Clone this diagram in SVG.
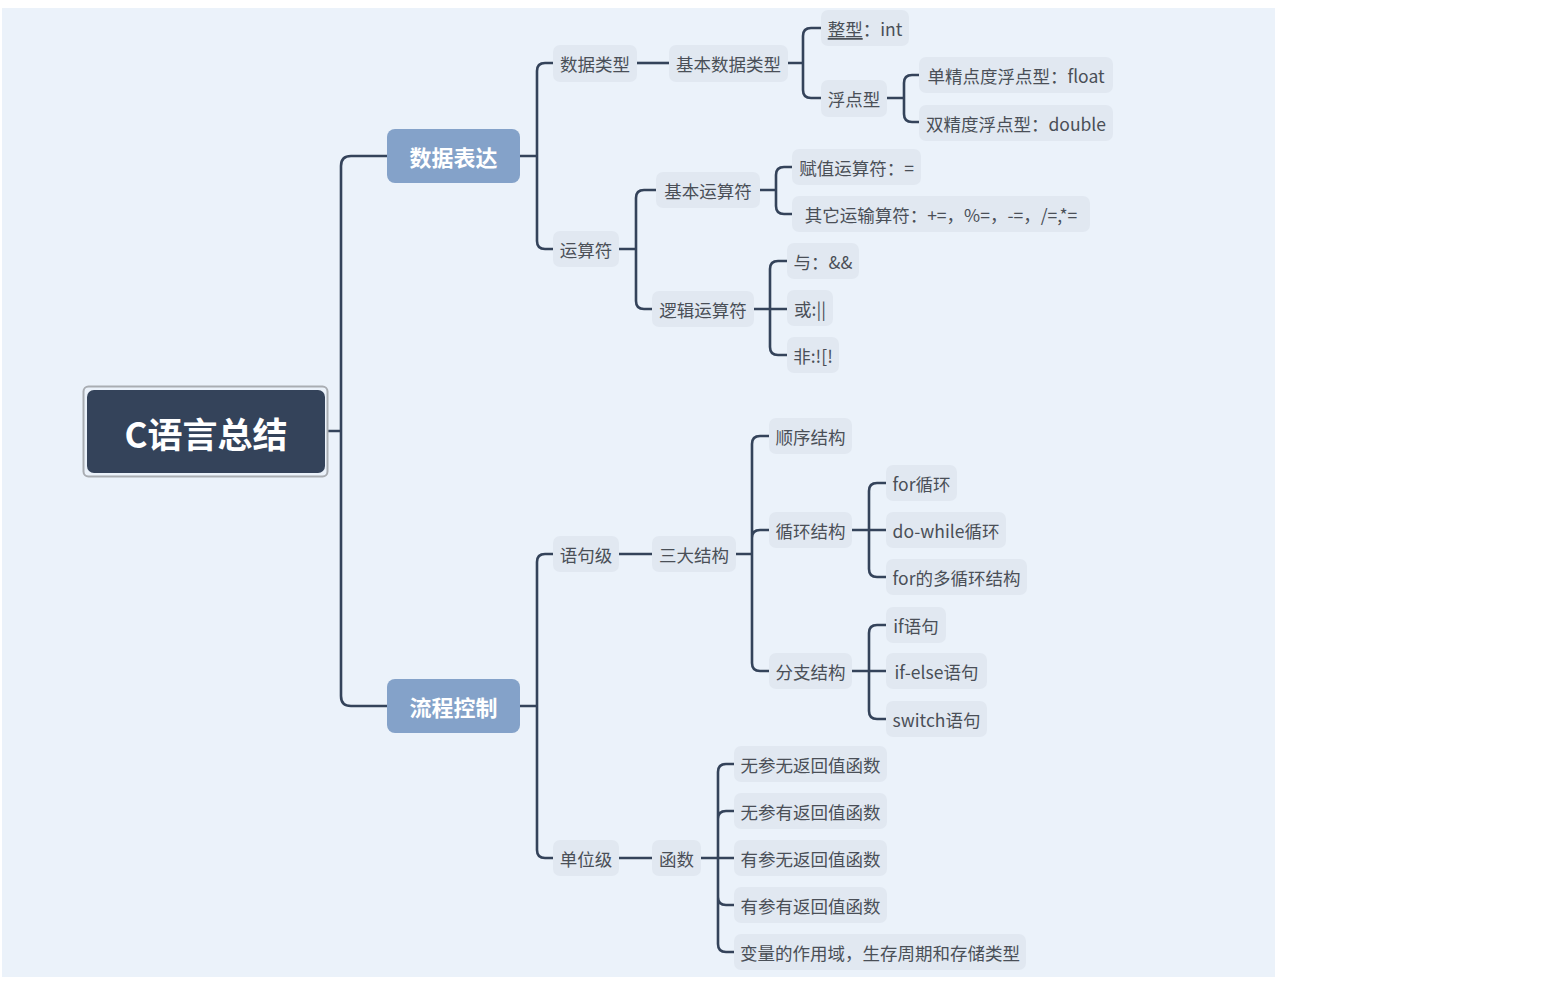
<svg xmlns="http://www.w3.org/2000/svg" width="1567" height="994" viewBox="0 0 1567 994">
<style>
.bg{fill:#EBF2FA}
.n rect{fill:#E1E8F1;rx:7px}
.n text{font-family:"Noto Sans CJK SC","Noto Sans",sans-serif;font-size:17.5px;fill:#4A4F57;text-anchor:middle;dominant-baseline:central}
.m rect{fill:#84A2C9;rx:8px}
.m text{font-family:"Noto Sans CJK SC","Noto Sans",sans-serif;font-size:22px;font-weight:bold;fill:#FFFFFF;text-anchor:middle;dominant-baseline:central}
.c path{fill:none;stroke:#34435A;stroke-width:2.6;stroke-linecap:butt}
</style>
<rect x="0" y="0" width="1567" height="994" fill="#FFFFFF"/>
<rect class="bg" x="2" y="8" width="1273" height="969"/>
<g class="c">
<path d="M328 431 H341 M341 431 V166 Q341 156 351 156 H387 M341 431 V696 Q341 706 351 706 H387" stroke-width="3"/>
<path d="M520 156 H537 M537 156 V71 Q537 63 545 63 H553 M537 156 V241 Q537 249 545 249 H553"/>
<path d="M520 706 H537 M537 706 V562 Q537 554 545 554 H553 M537 706 V850 Q537 858 545 858 H553"/>
<path d="M637 63 H669"/>
<path d="M788 63 H803 M803 63 V36 Q803 28 811 28 H821 M803 63 V90 Q803 98 811 98 H821"/>
<path d="M887 98 H904 M904 98 V83 Q904 75 912 75 H919 M904 98 V114 Q904 122 912 122 H919"/>
<path d="M619 249 H636 M636 249 V198 Q636 190 644 190 H656 M636 249 V301 Q636 309 644 309 H652"/>
<path d="M760 190 H776 M776 190 V175 Q776 167 784 167 H792 M776 190 V206 Q776 214 784 214 H792"/>
<path d="M754 309 H787 M770 309 V269 Q770 261 778 261 H787 M770 309 V347 Q770 355 778 355 H787"/>
<path d="M619 554 H652"/>
<path d="M736 554 H752 M752 554 V444 Q752 436 760 436 H769 M752 554 V538 Q752 530 760 530 H769 M752 554 V663 Q752 671 760 671 H769"/>
<path d="M852 530 H886 M869 530 V491 Q869 483 877 483 H886 M869 530 V569 Q869 577 877 577 H886"/>
<path d="M852 671 H886 M869 671 V633 Q869 625 877 625 H886 M869 671 V711 Q869 719 877 719 H886"/>
<path d="M619 858 H652"/>
<path d="M701 858 H734 M718 858 V772 Q718 764 726 764 H734 M718 858 V819 Q718 811 726 811 H734 M718 858 V897 Q718 905 726 905 H734 M718 858 V944 Q718 952 726 952 H734"/>
</g>
<g id="root">
<rect x="83.5" y="386.5" width="244" height="90" rx="5" fill="none" stroke="#A9ADB2" stroke-width="2"/>
<rect x="87" y="390" width="238" height="83" rx="7" fill="#34435A"/>
<text x="206" y="432" font-family="'Noto Sans CJK SC','Noto Sans',sans-serif" font-size="35" font-weight="bold" fill="#FFFFFF" text-anchor="middle" dominant-baseline="central">C语言总结</text>
</g>
<g id="n-sjbd" class="m"><rect x="387" y="129" width="133" height="54"/><text x="453.5" y="156">数据表达</text></g>
<g id="n-lckz" class="m"><rect x="387" y="679" width="133" height="54"/><text x="453.5" y="706">流程控制</text></g>
<g id="n-sjlx" class="n"><rect x="553" y="45" width="84" height="37"/><text x="595" y="63.5">数据类型</text></g>
<g id="n-jbsjlx" class="n"><rect x="669" y="45" width="119" height="37"/><text x="728.5" y="63.5">基本数据类型</text></g>
<g id="n-zx" class="n"><rect x="821" y="10" width="88" height="36"/><text x="865" y="28"><tspan text-decoration="underline">整型</tspan>：int</text></g>
<g id="n-fdx" class="n"><rect x="821" y="80" width="66" height="37"/><text x="854" y="98.5">浮点型</text></g>
<g id="n-float" class="n"><rect x="919" y="57" width="194" height="36"/><text x="1016" y="75">单精点度浮点型：float</text></g>
<g id="n-double" class="n"><rect x="919" y="105" width="194" height="36"/><text x="1016" y="123">双精度浮点型：double</text></g>
<g id="n-ysf" class="n"><rect x="553" y="231" width="66" height="36"/><text x="586" y="249">运算符</text></g>
<g id="n-jbysf" class="n"><rect x="656" y="172" width="104" height="36"/><text x="708" y="190">基本运算符</text></g>
<g id="n-fz" class="n"><rect x="792" y="149" width="129" height="36"/><text x="856.5" y="167">赋值运算符：=</text></g>
<g id="n-qt" class="n"><rect x="792" y="196" width="298" height="36"/><text x="941" y="214">其它运输算符：+=，%=，-=，/=,*=</text></g>
<g id="n-ljysf" class="n"><rect x="652" y="291" width="102" height="36"/><text x="703" y="309">逻辑运算符</text></g>
<g id="n-and" class="n"><rect x="787" y="243" width="72" height="36"/><text x="823" y="261">与：&amp;&amp;</text></g>
<g id="n-or" class="n"><rect x="787" y="290" width="46" height="36"/><text x="810" y="308">或:||</text></g>
<g id="n-not" class="n"><rect x="787" y="337" width="52" height="36"/><text x="813" y="355">非:![!</text></g>
<g id="n-yjj" class="n"><rect x="553" y="536" width="66" height="36"/><text x="586" y="554">语句级</text></g>
<g id="n-sdjg" class="n"><rect x="652" y="536" width="84" height="36"/><text x="694" y="554">三大结构</text></g>
<g id="n-sxjg" class="n"><rect x="769" y="418" width="83" height="36"/><text x="810.5" y="436">顺序结构</text></g>
<g id="n-xhjg" class="n"><rect x="769" y="512" width="83" height="36"/><text x="810.5" y="530">循环结构</text></g>
<g id="n-for" class="n"><rect x="886" y="465" width="71" height="36"/><text x="921.5" y="483">for循环</text></g>
<g id="n-dowhile" class="n"><rect x="886" y="512" width="120" height="36"/><text x="946" y="530">do-while循环</text></g>
<g id="n-formulti" class="n"><rect x="886" y="559" width="141" height="36"/><text x="956.5" y="577">for的多循环结构</text></g>
<g id="n-fzjg" class="n"><rect x="769" y="653" width="83" height="36"/><text x="810.5" y="671">分支结构</text></g>
<g id="n-if" class="n"><rect x="886" y="607" width="60" height="36"/><text x="916" y="625">if语句</text></g>
<g id="n-ifelse" class="n"><rect x="886" y="653" width="101" height="36"/><text x="936.5" y="671">if-else语句</text></g>
<g id="n-switch" class="n"><rect x="886" y="701" width="101" height="36"/><text x="936.5" y="719">switch语句</text></g>
<g id="n-dwj" class="n"><rect x="553" y="840" width="66" height="36"/><text x="586" y="858">单位级</text></g>
<g id="n-hs" class="n"><rect x="652" y="840" width="49" height="36"/><text x="676.5" y="858">函数</text></g>
<g id="n-f1" class="n"><rect x="734" y="746" width="153" height="36"/><text x="810.5" y="764">无参无返回值函数</text></g>
<g id="n-f2" class="n"><rect x="734" y="793" width="153" height="36"/><text x="810.5" y="811">无参有返回值函数</text></g>
<g id="n-f3" class="n"><rect x="734" y="840" width="153" height="36"/><text x="810.5" y="858">有参无返回值函数</text></g>
<g id="n-f4" class="n"><rect x="734" y="887" width="153" height="36"/><text x="810.5" y="905">有参有返回值函数</text></g>
<g id="n-f5" class="n"><rect x="734" y="934" width="292" height="36"/><text x="880" y="952">变量的作用域，生存周期和存储类型</text></g>
</svg>
